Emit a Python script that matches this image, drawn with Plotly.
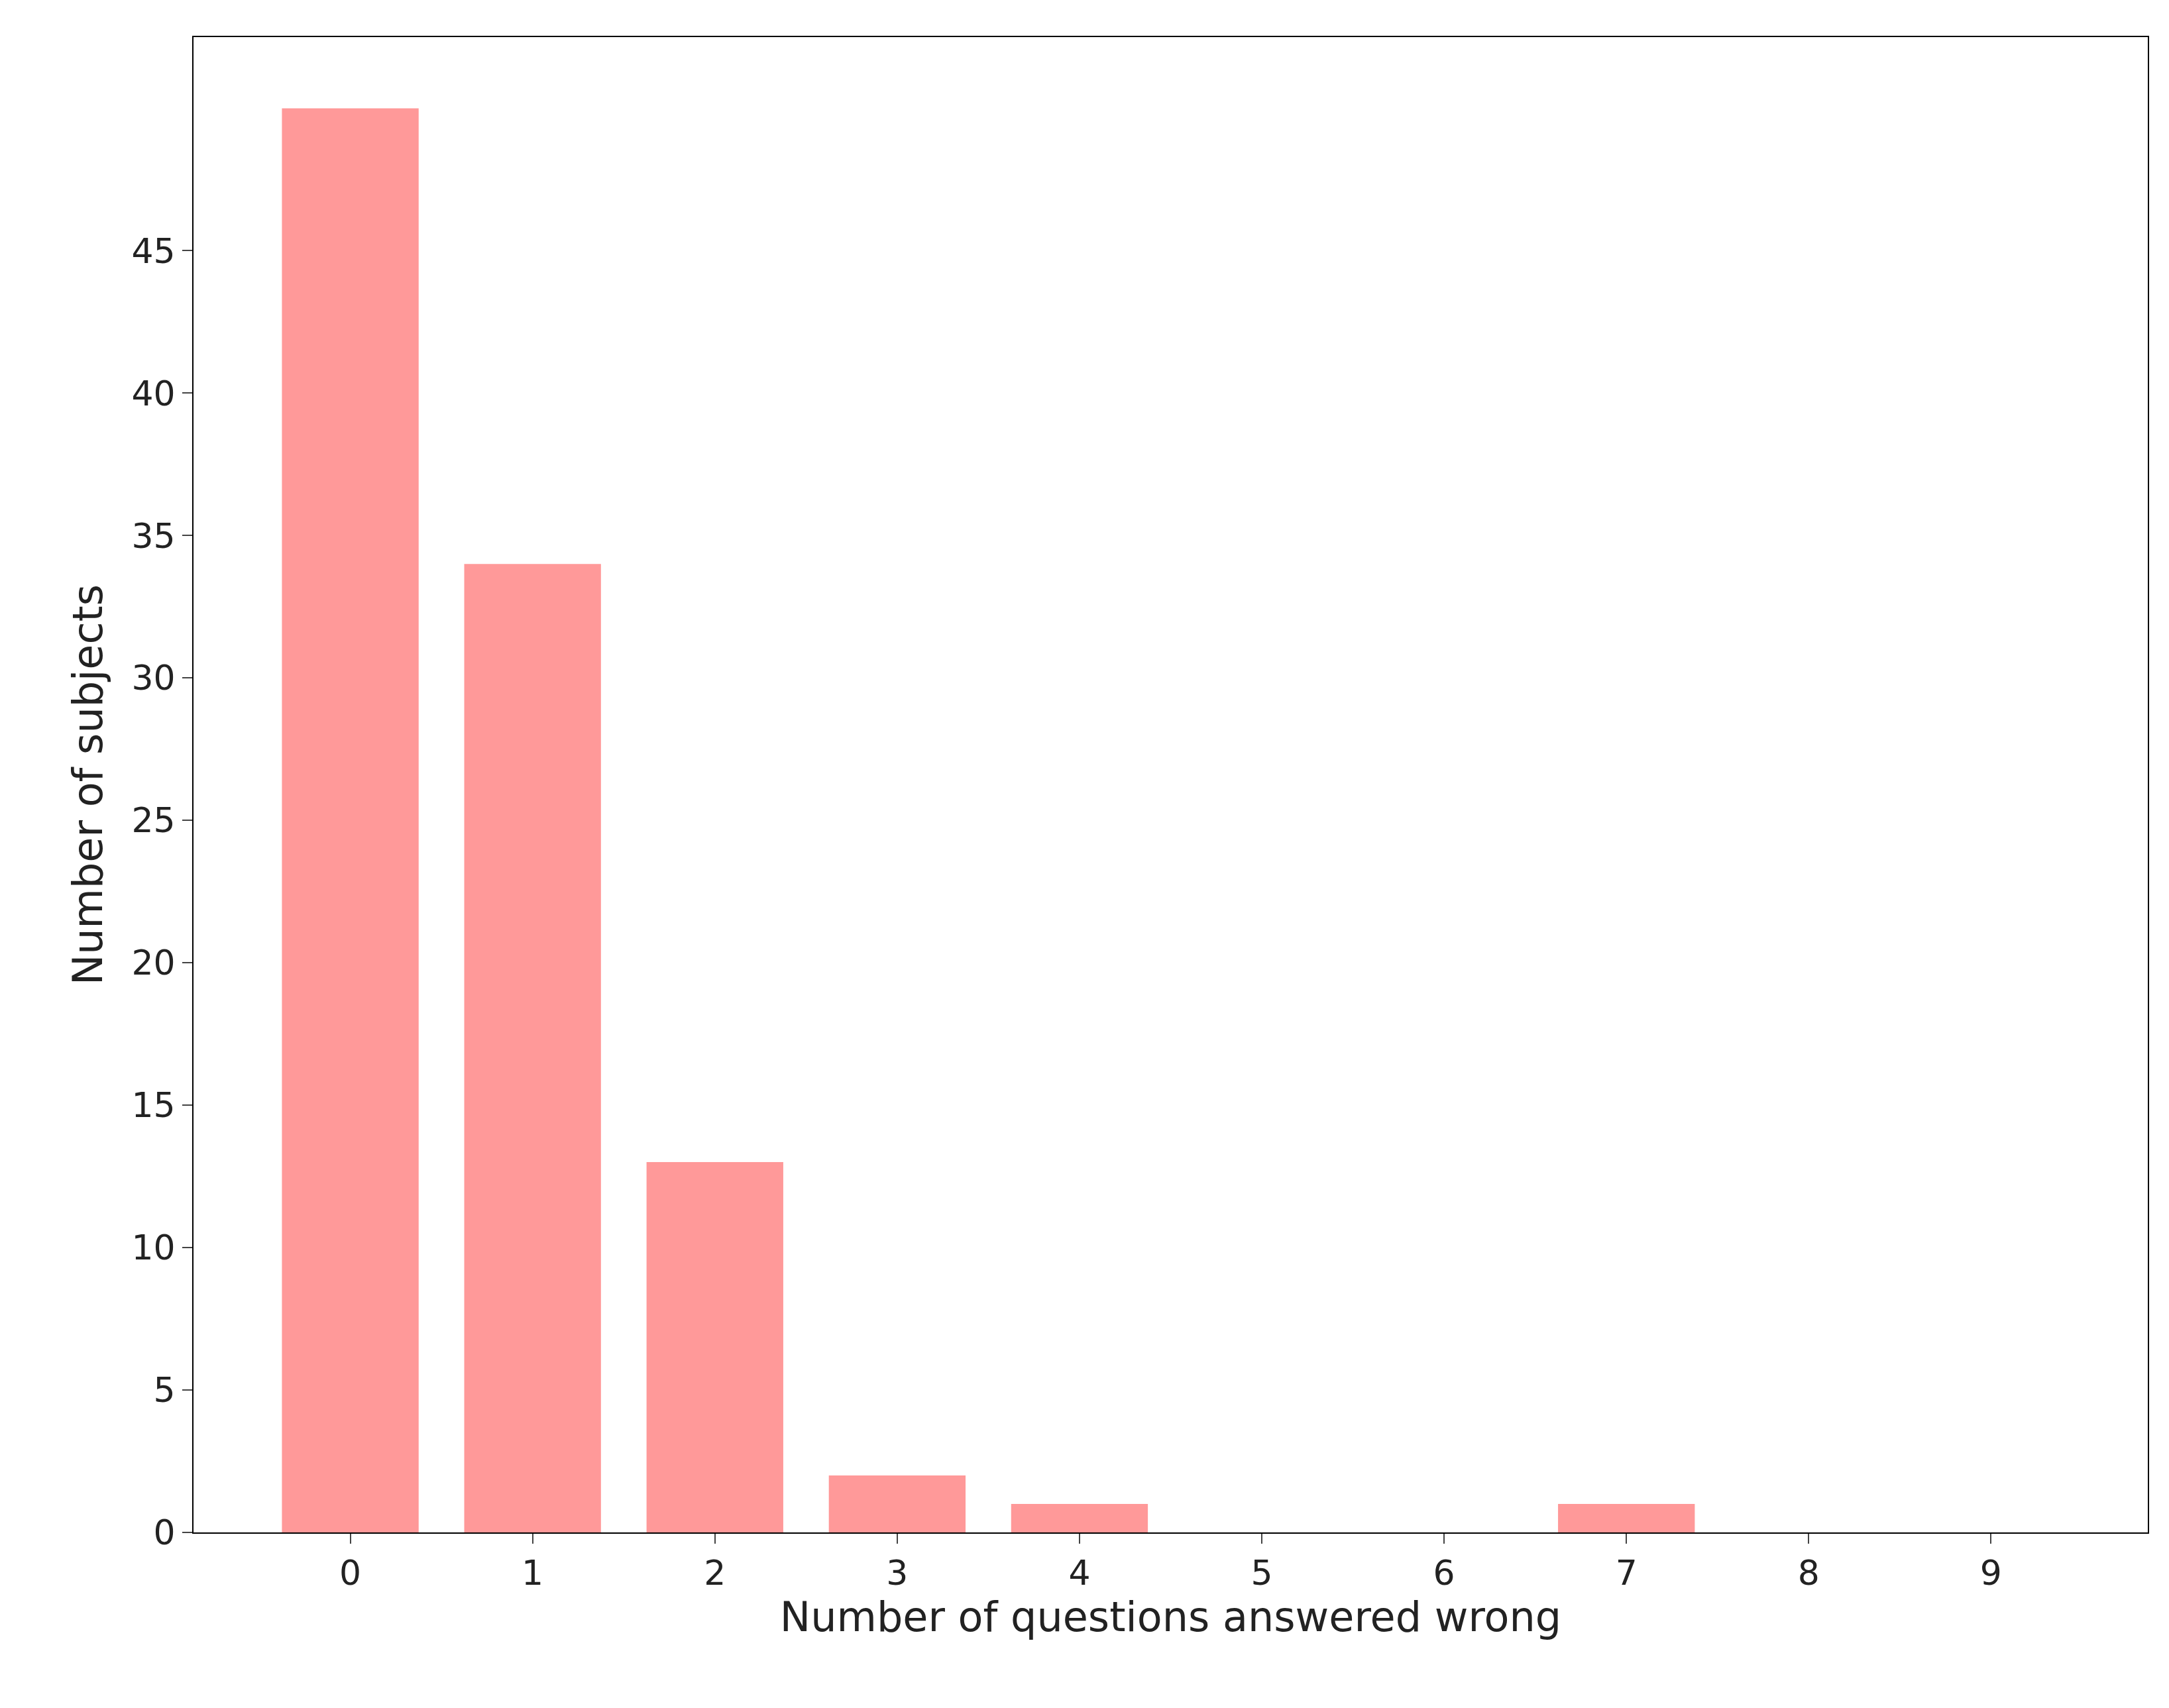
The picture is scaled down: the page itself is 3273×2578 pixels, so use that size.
import plotly.graph_objects as go

wrong_counts = [0, 1, 2, 3, 4, 5, 6, 7, 8, 9]
subjects = [50, 34, 13, 2, 1, 0, 0, 1, 0, 0]
y_ticks = [0, 5, 10, 15, 20, 25, 30, 35, 40, 45]

fig = go.Figure(go.Bar(x=wrong_counts, y=subjects, width=0.75,
                       marker=dict(color="#ff9999", line=dict(width=0))))
font = dict(family="DejaVu Sans", size=52, color="#222")
fig.update_layout(
    width=3273, height=2578, plot_bgcolor="white", paper_bgcolor="white",
    margin=dict(l=284, r=40, t=48, b=273), font=font, showlegend=False,
    xaxis=dict(range=[-0.86, 9.86], tickvals=wrong_counts, ticks="outside", ticklen=15,
               tickwidth=2, showgrid=False, zeroline=False, showline=True, linecolor="black",
               linewidth=2, mirror=True, title=dict(text="Number of questions answered wrong", standoff=14)),
    yaxis=dict(range=[0, 52.5], tickvals=y_ticks, ticks="outside", ticklen=15, tickwidth=2,
               showgrid=False, zeroline=False, showline=True, linecolor="black", linewidth=2,
               mirror=True, title=dict(text="Number of subjects", standoff=24)),
)
fig.write_html("out.html")
